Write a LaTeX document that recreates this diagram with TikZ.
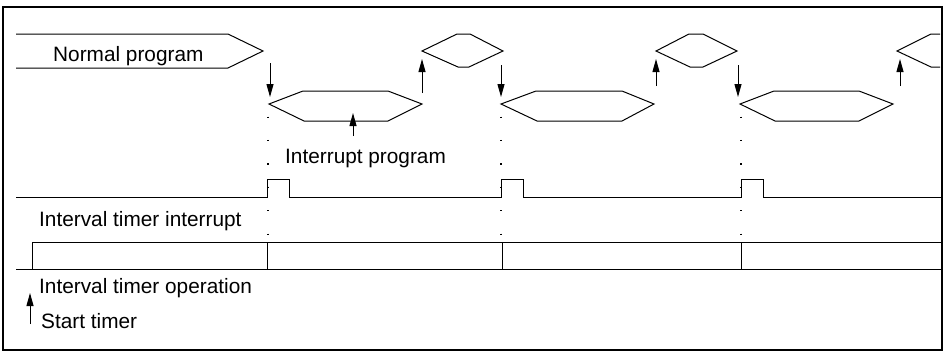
\documentclass[tikz,border=0pt]{standalone}
\usepackage{fontspec}
\setmainfont{Liberation Sans}
\usetikzlibrary{arrows.meta}

\begin{document}
\begin{tikzpicture}[x=1pt, y=-1pt,
        note/.style={font=\fontsize{20.8}{24}\selectfont, inner sep=0pt, anchor=base west},
        wave/.style={black, line width=1pt, line join=miter},
        flow/.style={-{Triangle[length=13pt,width=7pt]}, line width=1pt},
        dotline/.style={line width=1.2pt, dash pattern=on 1.2pt off 22.2pt},
        ]
        \useasboundingbox (0,0) rectangle (948,354);
        \draw[line width=1.2pt] (3,7) rectangle (942,350);

        % texts
        \node[note] at(53,61) (normal) {Normal program};
        \node[note] at(285,163) (intprog) {Interrupt program};
        \node[note] at(39,226) (tmrint) {Interval timer interrupt};
        \node[note] at(39,293) (tmrop) {Interval timer operation};
        \node[note] at(41,328) (start) {Start timer};

        % normal program and interrupt program blocks
        \draw[wave] (16,34) -- (228,34) -- (263,51) -- (228,68) -- (16,68);
        \draw[wave] (269,104) -- (303,91) -- (388,91) -- (422,104) -- (388,121) -- (304,121) -- cycle;
        \draw[wave] (422,51) -- (457,34) -- (470,34) -- (503,51) -- (469,67) -- (458,67) -- cycle;
        \draw[wave] (501,104) -- (536,91) -- (622,91) -- (654,104) -- (622,121) -- (537,121) -- cycle;
        \draw[wave] (656,51) -- (689,34) -- (703,34) -- (737,51) -- (703,67) -- (690,67) -- cycle;
        \draw[wave] (740,104) -- (774,91) -- (859,91) -- (893,104) -- (859,121) -- (775,121) -- cycle;
        \draw[wave] (940,34) -- (931,34) -- (897,51) -- (931,67) -- (940,67);

        % arrow ends
        \coordinate (d1a) at (270,63);  \coordinate (d1b) at (270,97);
        \coordinate (d2a) at (501,65);  \coordinate (d2b) at (501,97);
        \coordinate (d3a) at (738,65);  \coordinate (d3b) at (738,97);
        \coordinate (u1a) at (422,93);  \coordinate (u1b) at (422,59);
        \coordinate (u2a) at (656,86);  \coordinate (u2b) at (656,59);
        \coordinate (u3a) at (900,86);  \coordinate (u3b) at (900,59);
        \coordinate (ipa) at (353,136); \coordinate (ipb) at (353,113);
        \coordinate (sta) at (30,324);  \coordinate (stb) at (30,293);

        \draw[flow] (d1a) -- (d1b);
        \draw[flow] (d2a) -- (d2b);
        \draw[flow] (d3a) -- (d3b);
        \draw[flow] (u1a) -- (u1b);
        \draw[flow] (u2a) -- (u2b);
        \draw[flow] (u3a) -- (u3b);
        \draw[flow] (ipa) -- (ipb);
        \draw[flow] (sta) -- (stb);

        % dotted guides
        \draw[dotline] (268,116.5) -- (268,236);
        \draw[dotline] (501,116.5) -- (501,236);
        \draw[dotline] (741,116.5) -- (741,236);

        % interval timer interrupt
        \draw[wave] (16,197) -- (267,197) -- (267,179) -- (289,179) -- (289,197)
                -- (501,197) -- (501,179) -- (523,179) -- (523,197)
                -- (741,197) -- (741,179) -- (763,179) -- (763,197) -- (941,197);

        % interval timer operation
        \draw[wave] (16,269) -- (941,269);
        \draw[wave] (32,269) -- (32,242) -- (941,242);
        \draw[wave] (267,242) -- (267,269);
        \draw[wave] (502,242) -- (502,269);
        \draw[wave] (741,242) -- (741,269);
\end{tikzpicture}
\end{document}
